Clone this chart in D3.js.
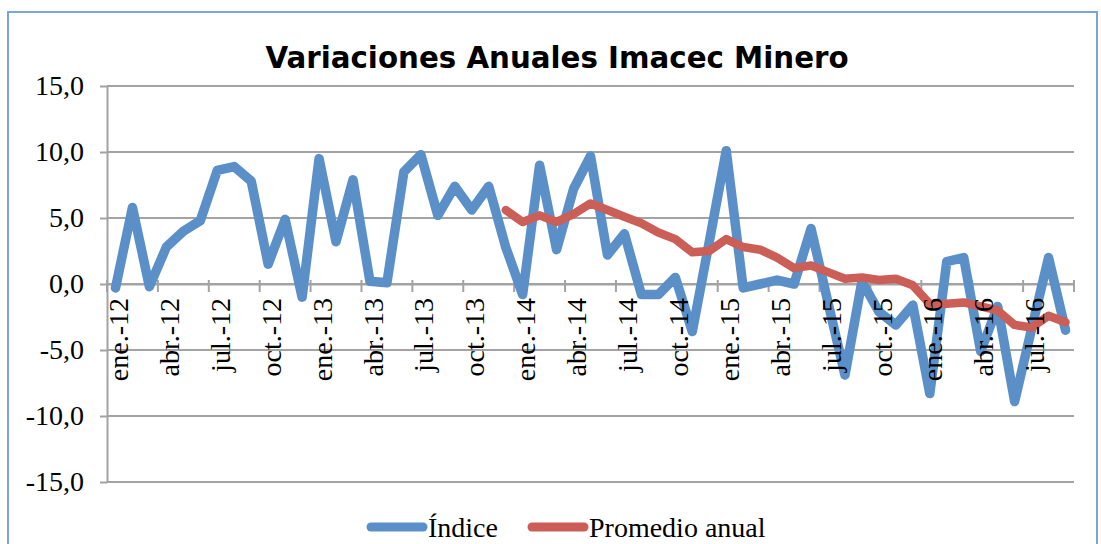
<!DOCTYPE html>
<html>
<head>
  <meta charset="utf-8">
  <title>Variaciones Anuales Imacec Minero</title>
  <style>
  body { margin: 0; background: #fff; }
  .grid line { stroke: #a3a3a3; stroke-width: 2; }
  .axis path, .axis line { stroke: #a3a3a3; stroke-width: 2; }
  .lbl { font-family: "Liberation Serif", serif; font-size: 28px; fill: #000; }
  .series { fill: none; stroke-linejoin: round; stroke-linecap: round; }
  </style>
</head>
<body>
<script src="https://d3js.org/d3.v7.min.js"></script>
<script>
// month abbreviations and years shown on the category axis
var months = ["ene.", "feb.", "mar.", "abr.", "may.", "jun.", "jul.", "ago.", "sep.", "oct.", "nov.", "dic."];
var years = ["12", "13", "14", "15", "16"];
var nMonths = 57; // ene.-12 .. sep.-16

var categories = [];
for (var i = 0; i < nMonths; i++) {
  categories.push(months[i % 12] + "-" + years[Math.floor(i / 12)]);
}

// Índice (variación anual, %)
var indice = [
  -0.3, 5.8, -0.2, 2.8, 4.0, 4.8, 8.6, 8.9, 7.8, 1.5, 4.9, -1.0,
  9.5, 3.2, 7.9, 0.2, 0.1, 8.5, 9.8, 5.2, 7.4, 5.6, 7.4, 2.8,
  -0.8, 9.0, 2.6, 7.2, 9.7, 2.2, 3.8, -0.8, -0.8, 0.5, -3.6, 3.2,
  10.1, -0.3, 0.0, 0.3, 0.0, 4.2, -1.4, -6.9, 0.2, -2.1, -3.1, -1.6,
  -8.3, 1.7, 2.0, -5.1, -1.7, -8.9, -3.4, 2.0, -3.5
];

// Promedio anual (starts dic.-13)
var promedio = [
  null, null, null, null, null, null, null, null, null, null, null, null,
  null, null, null, null, null, null, null, null, null, null, null, 5.6,
  4.7, 5.2, 4.7, 5.3, 6.1, 5.6, 5.1, 4.6, 3.9, 3.4, 2.4, 2.5,
  3.4, 2.8, 2.6, 2.0, 1.2, 1.4, 0.9, 0.4, 0.5, 0.3, 0.4, -0.1,
  -1.5, -1.5, -1.4, -1.7, -2.0, -3.1, -3.3, -2.4, -2.9
];

var yTicks = [-15, -10, -5, 0, 5, 10, 15];

var width = 1101, height = 544;
var margin = {left: 107, right: 27, top: 86, bottom: 62};

var svg = d3.select("body").append("svg")
    .attr("width", width)
    .attr("height", height);

// chart border
svg.append("rect")
    .attr("x", 8).attr("y", 12)
    .attr("width", 1089).attr("height", 545)
    .attr("fill", "none")
    .attr("stroke", "#7aa5d8")
    .attr("stroke-width", 2);

var x = d3.scaleBand()
    .domain(categories)
    .range([margin.left, width - margin.right])
    .padding(0);

var y = d3.scaleLinear()
    .domain([-15, 15])
    .range([height - margin.bottom, margin.top]);

var fmt = function(d) { return d3.format(".1f")(d).replace(".", ",").replace("−", "-"); };

// gridlines
svg.append("g").attr("class", "grid")
  .selectAll("line")
  .data(yTicks)
  .enter().append("line")
    .attr("x1", margin.left)
    .attr("x2", width - margin.right)
    .attr("y1", function(d) { return y(d); })
    .attr("y2", function(d) { return y(d); });

// y axis
var yAxis = svg.append("g")
    .attr("class", "axis")
    .attr("transform", "translate(" + margin.left + ",0)")
    .call(d3.axisLeft(y).tickValues(yTicks).tickFormat(fmt).tickSize(7).tickSizeOuter(0).tickPadding(16));
yAxis.selectAll("text").attr("class", "lbl").attr("fill", null).attr("font-family", null).attr("font-size", null);

// x axis line at zero
var xAxis = svg.append("g")
    .attr("class", "axis")
    .attr("transform", "translate(0," + y(0) + ")")
    .call(d3.axisBottom(x).tickValues([]).tickSize(0).tickSizeOuter(0));

// category tick marks (between categories, every 3)
var tickPos = categories.filter(function(d, i) { return i % 3 === 0; }).map(function(d) { return x(d); });
tickPos.push(x.range()[1]);
xAxis.selectAll(".cat-tick")
  .data(tickPos)
  .enter().append("line")
    .attr("class", "cat-tick")
    .attr("x1", function(d) { return d; })
    .attr("x2", function(d) { return d; })
    .attr("y1", -4).attr("y2", 8);

var cx = function(i) { return x(categories[i]) + x.bandwidth() / 2; };

var lineIndice = d3.line()
    .x(function(d, i) { return cx(i); })
    .y(function(d) { return y(d); });

var linePromedio = d3.line()
    .defined(function(d) { return d !== null; })
    .x(function(d, i) { return cx(i); })
    .y(function(d) { return y(d); });

svg.append("path")
    .datum(indice)
    .attr("class", "series")
    .attr("stroke", "#5b8fc8")
    .attr("stroke-width", 9.5)
    .attr("d", lineIndice);

svg.append("path")
    .datum(promedio)
    .attr("class", "series")
    .attr("stroke", "#cb5f58")
    .attr("stroke-width", 8.5)
    .attr("d", linePromedio);

// x labels drawn over the lines, as in the original
var xLabels = svg.append("g")
    .attr("transform", "translate(0," + y(0) + ")")
    .call(d3.axisBottom(x)
      .tickValues(categories.filter(function(d, i) { return i % 3 === 0; }))
      .tickSize(0).tickSizeOuter(0));
xLabels.select(".domain").remove();
xLabels.selectAll(".tick text")
    .attr("class", "lbl")
    .attr("fill", null).attr("font-family", null).attr("font-size", null)
    .attr("transform", "rotate(-90)")
    .attr("text-anchor", "end")
    .attr("x", -14)
    .attr("y", 0)
    .attr("dy", "0.45em");

// title
svg.append("text")
    .attr("x", 557)
    .attr("y", 68)
    .attr("text-anchor", "middle")
    .attr("font-family", "'DejaVu Sans', Verdana, sans-serif")
    .attr("font-weight", "bold")
    .attr("font-size", 29.3)
    .text("Variaciones Anuales Imacec Minero");

// legend
var legend = [
  {name: "Índice", color: "#5b8fc8", x: 367},
  {name: "Promedio anual", color: "#cb5f58", x: 528}
];
var lg = svg.append("g").selectAll("g")
  .data(legend)
  .enter().append("g")
    .attr("transform", function(d) { return "translate(" + d.x + ",527)"; });
lg.append("line")
    .attr("x1", 4).attr("x2", 56)
    .attr("stroke", function(d) { return d.color; })
    .attr("stroke-width", 9)
    .attr("stroke-linecap", "round");
lg.append("text")
    .attr("class", "lbl")
    .attr("x", 61)
    .attr("y", 10)
    .text(function(d) { return d.name; });
</script>
</body>
</html>
